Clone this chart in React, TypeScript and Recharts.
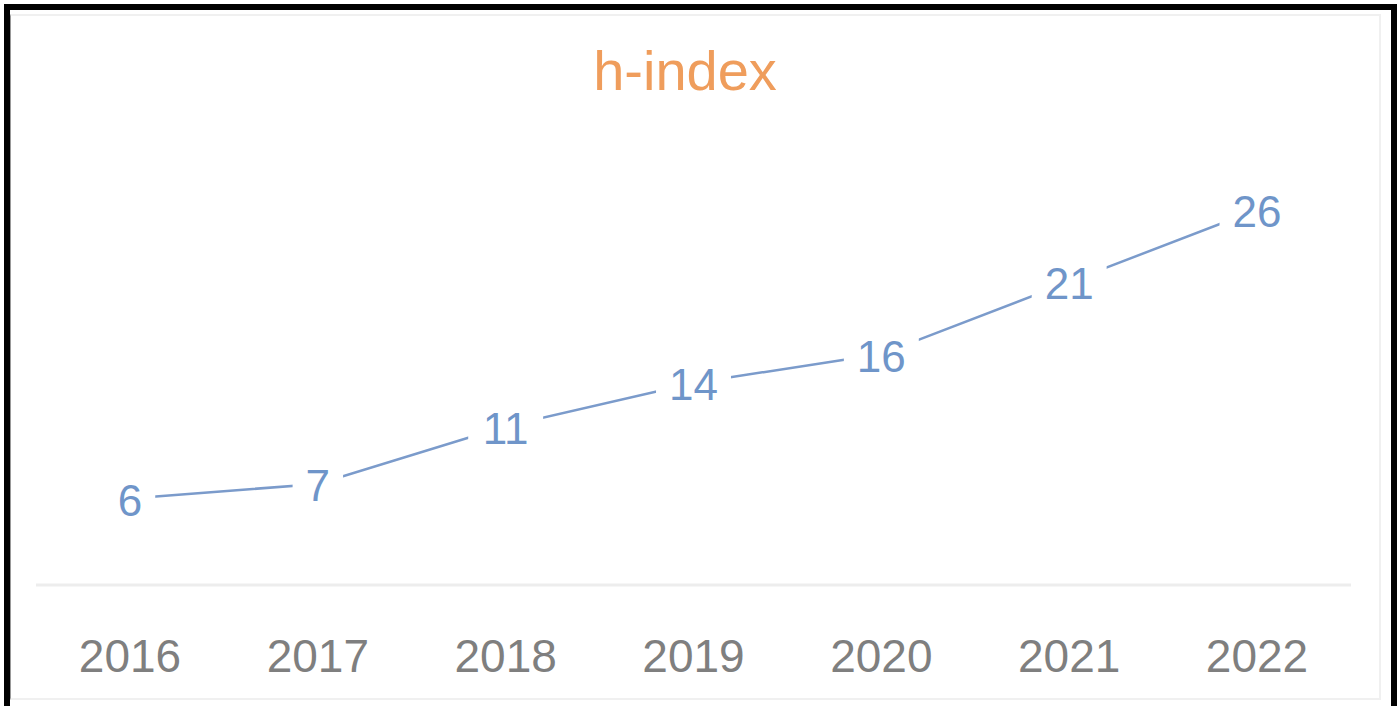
import { LineChart, Line, XAxis, YAxis, LabelList } from "recharts";

const years = ["2016", "2017", "2018", "2019", "2020", "2021", "2022"];
const hIndex = [6, 7, 11, 14, 16, 21, 26];

const data = years.map((year, i) => ({ year, value: hIndex[i] }));

const FONT = "'Liberation Sans', Arial, sans-serif";

const PointLabel = (props: any) => {
  const { x, y, value } = props;
  const text = String(value);
  const w = text.length * 0.556 * 44 + 26;
  const h = 40;
  return (
    <g>
      <rect x={x - w / 2} y={y - h / 2 + 2} width={w} height={h} fill="#ffffff" />
      <text
        x={x}
        y={y + 2}
        textAnchor="middle"
        dominantBaseline="central"
        fontFamily={FONT}
        fontSize={44}
        fill="#6f95c9"
      >
        {text}
      </text>
    </g>
  );
};

export default function App() {
  return (
    <div style={{ position: "absolute", left: 0, top: 0, width: 1398, height: 706, background: "#fff" }}>
      {/* outer frame */}
      <div
        style={{
          position: "absolute",
          left: 4,
          top: 4,
          width: 1381,
          height: 698,
          borderLeft: "6px solid #000",
          borderTop: "6px solid #000",
          borderRight: "6px solid #000",
          borderBottom: "3px solid #777",
        }}
      />
      <div
        style={{
          position: "absolute",
          left: 10,
          top: 14,
          width: 1368,
          height: 682,
          border: "2px solid #f0f0f0",
          borderLeft: "1px solid #999",
        }}
      />
      <div
        style={{
          position: "absolute",
          left: -14,
          width: 1398,
          top: 43,
          textAlign: "center",
          fontFamily: FONT,
          fontSize: 56,
          lineHeight: "56px",
          color: "#ef9d5c",
        }}
      >
        h-index
      </div>
      <div style={{ position: "absolute", left: 0, top: 0 }}>
        <LineChart width={1398} height={706} data={data} margin={{ top: 152, right: 47, bottom: 0, left: 36 }}>
          <XAxis
            dataKey="year"
            height={121}
            padding={{ left: 94, right: 94 }}
            tickLine={false}
            tickSize={0}
            tickMargin={54}
            axisLine={{ stroke: "#ededed", strokeWidth: 3 }}
            tick={{ fill: "#7f7f7f", fontSize: 46, fontFamily: FONT }}
            interval={0}
          />
          <YAxis hide domain={[0, 30]} />
          <Line
            type="linear"
            dataKey="value"
            stroke="#7b9bcb"
            strokeWidth={2.5}
            dot={false}
            isAnimationActive={false}
          >
            <LabelList dataKey="value" content={<PointLabel />} />
          </Line>
        </LineChart>
      </div>
    </div>
  );
}
